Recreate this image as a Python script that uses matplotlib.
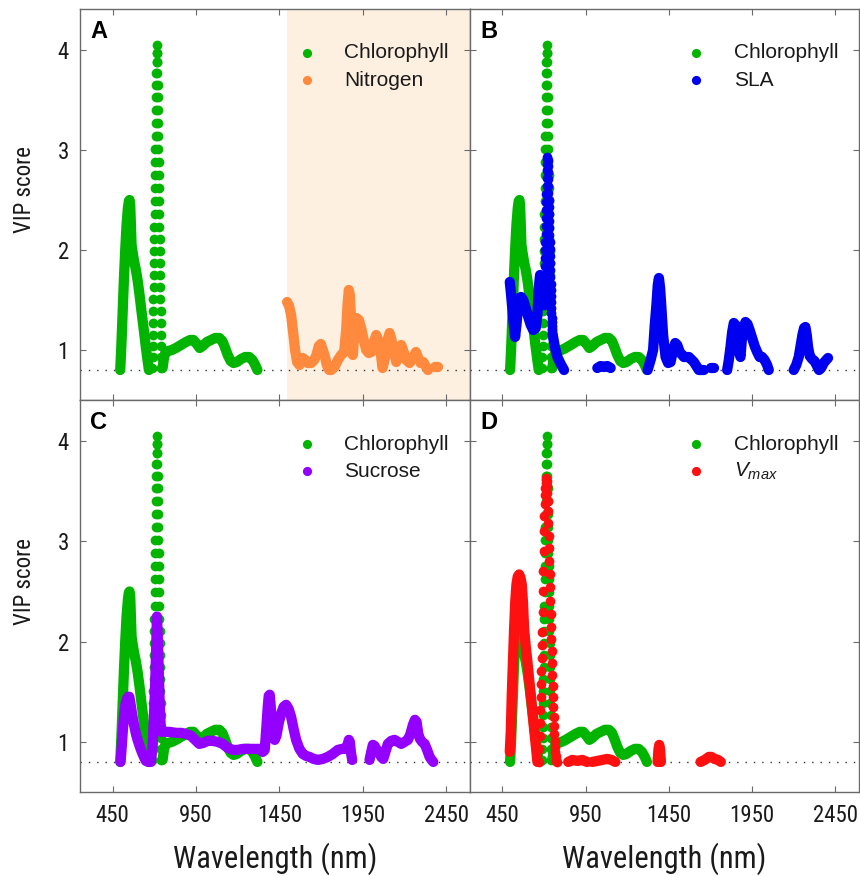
import numpy as np
import matplotlib
matplotlib.use("Agg")
import matplotlib.pyplot as plt
from matplotlib import font_manager

# ---------------- data ----------------
# Chlorophyll (identical in all four panels)
chl_a_nm = [496, 503, 510, 518, 526, 534, 542, 548, 552, 556, 560, 564, 570, 580, 590, 600, 612, 624, 636, 648, 658, 668]
chl_a_vip = [0.80, 1.05, 1.35, 1.70, 2.00, 2.25, 2.42, 2.49, 2.50, 2.45, 2.25, 2.05, 1.98, 1.88, 1.80, 1.70, 1.55, 1.38, 1.22, 1.05, 0.92, 0.80]
chl_up_nm = np.arange(689, 717)
chl_up_vip = [0.82, 0.93, 1.04, 1.15, 1.27, 1.39, 1.51, 1.63, 1.75, 1.87,
              1.99, 2.11, 2.23, 2.36, 2.49, 2.62, 2.75, 2.88, 3.01, 3.14,
              3.27, 3.40, 3.53, 3.65, 3.77, 3.88, 3.97, 4.05]
chl_down_nm = np.arange(717, 744)
chl_down_vip = [3.97, 3.88, 3.77, 3.65, 3.53, 3.40, 3.27, 3.14, 3.01, 2.88,
                2.75, 2.62, 2.49, 2.36, 2.23, 2.11, 1.99, 1.87, 1.75, 1.63,
                1.51, 1.39, 1.27, 1.15, 1.04, 0.93, 0.82]
chl_c_nm = [750, 758, 768, 785, 805, 830, 860, 890, 915, 935, 955, 972, 990, 1015, 1040,
            1065, 1090, 1108, 1125, 1140, 1158, 1175, 1195, 1220, 1245, 1268, 1288, 1305, 1318]
chl_c_vip = [0.82, 0.92, 0.98, 0.99, 1.00, 1.02, 1.05, 1.08, 1.10, 1.10, 1.06, 1.02, 1.04, 1.08, 1.10,
             1.12, 1.12, 1.09, 1.02, 0.95, 0.89, 0.87, 0.88, 0.91, 0.93, 0.93, 0.90, 0.85, 0.80]

# Nitrogen (panel A)
nit_a_nm = [1496, 1508, 1520, 1532, 1544, 1556, 1570, 1590, 1605, 1620,
            1640, 1658, 1672, 1686, 1698, 1710, 1722, 1734, 1748, 1760,
            1780, 1800, 1820, 1838, 1850, 1858, 1866, 1872, 1878, 1884,
            1890, 1900, 1912, 1926, 1940, 1955, 1970, 1985, 2000, 2015,
            2030, 2042, 2055, 2068, 2080, 2095, 2110, 2122, 2135, 2150,
            2165, 2180, 2195, 2210, 2230, 2250, 2268, 2282, 2296, 2312,
            2326, 2340]
nit_a_vip = [1.48, 1.44, 1.35, 1.18, 1.00, 0.88, 0.85, 0.92, 0.90, 0.87,
             0.87, 0.90, 0.95, 1.04, 1.06, 1.00, 0.94, 0.85, 0.80, 0.80,
             0.83, 0.90, 0.95, 0.98, 1.20, 1.45, 1.60, 1.55, 1.35, 1.05,
             0.95, 1.20, 1.32, 1.30, 1.22, 1.10, 1.00, 0.97, 0.98, 1.08,
             1.15, 1.10, 1.00, 0.82, 0.90, 1.08, 1.17, 1.10, 1.00, 0.88,
             0.95, 1.05, 0.98, 0.90, 0.87, 0.92, 0.98, 0.92, 0.87, 0.88,
             0.84, 0.80]
nit_b_nm = [2385, 2400]
nit_b_vip = [0.83, 0.83]

# SLA (panel B)
sla_a_nm = [494, 502, 510, 518, 526, 534, 542, 552, 562, 575, 590, 605, 620, 635, 650, 660, 668, 676, 684, 692, 699]
sla_a_vip = [1.68, 1.55, 1.40, 1.25, 1.13, 1.25, 1.40, 1.52, 1.53, 1.50, 1.42, 1.33, 1.25, 1.20, 1.22, 1.35, 1.62, 1.75, 1.72, 1.55, 1.45]
sla_up_nm = np.arange(700, 721)
sla_up_vip = [1.45, 1.52, 1.60, 1.68, 1.76, 1.84, 1.92, 2.00, 2.08, 2.16,
              2.24, 2.32, 2.40, 2.48, 2.56, 2.64, 2.72, 2.80, 2.86, 2.91, 2.93]
sla_down_nm = np.arange(721, 751)
sla_down_vip = [2.90, 2.84, 2.78, 2.71, 2.64, 2.57, 2.50, 2.43, 2.36, 2.29,
                2.22, 2.15, 2.08, 2.01, 1.94, 1.87, 1.80, 1.73, 1.66, 1.60,
                1.54, 1.48, 1.42, 1.37, 1.32, 1.28, 1.24, 1.21, 1.19, 1.17]
sla_b_nm = [752, 765, 780, 800, 820]
sla_b_vip = [1.15, 1.03, 0.93, 0.86, 0.80]
sla_c_nm = [1020, 1040, 1060, 1080, 1100]
sla_c_vip = [0.82, 0.84, 0.83, 0.84, 0.82]
sla_d_nm = [1322, 1340, 1355, 1365, 1375, 1383, 1390, 1397, 1405, 1415,
            1430, 1445, 1460, 1475, 1488, 1500, 1515, 1540, 1570, 1600, 1630, 1660]
sla_d_vip = [0.80, 0.90, 1.00, 1.25, 1.45, 1.65, 1.72, 1.62, 1.42, 1.15,
             0.93, 0.87, 0.88, 1.00, 1.07, 1.05, 0.98, 0.93, 0.93, 0.88, 0.80, 0.80]
sla_e_nm = [1705, 1720]
sla_e_vip = [0.82, 0.82]
sla_f_nm = [1800, 1810, 1820, 1830, 1840, 1850, 1862, 1872, 1880, 1888,
            1898, 1910, 1922, 1935, 1950, 1965, 1980, 1995, 2010, 2025, 2040, 2050]
sla_f_vip = [0.80, 0.90, 1.03, 1.18, 1.27, 1.25, 1.12, 0.98, 0.93, 1.10,
             1.22, 1.28, 1.26, 1.20, 1.12, 1.04, 0.98, 0.93, 0.93, 0.90, 0.85, 0.80]
sla_g_nm = [2200, 2215, 2230, 2242, 2252, 2262, 2270, 2278, 2286, 2296,
            2310, 2325, 2340, 2352, 2365, 2380, 2395, 2406]
sla_g_vip = [0.80, 0.85, 0.93, 1.05, 1.15, 1.22, 1.23, 1.15, 1.03, 0.94,
             0.91, 0.89, 0.84, 0.80, 0.82, 0.87, 0.90, 0.92]

# Sucrose (panel C)
suc_a_nm = [498, 505, 512, 520, 528, 536, 544, 550, 556, 563,
            570, 580, 590, 600, 612, 625, 638, 650, 665, 680,
            690, 698, 705, 711, 716, 721, 727, 733, 739, 745,
            760, 790, 830, 860, 890, 920, 945, 970, 995, 1020,
            1050, 1080, 1110, 1140, 1170, 1200, 1230, 1260, 1295, 1330,
            1350, 1362, 1372, 1380, 1386, 1392, 1398, 1405, 1413, 1422,
            1432, 1445, 1460, 1475, 1490, 1505, 1520, 1535, 1550, 1570,
            1590, 1610, 1630, 1655, 1680, 1710, 1740, 1770, 1800, 1825,
            1845, 1858, 1866, 1872, 1878, 1886]
suc_a_vip = [0.80, 0.95, 1.12, 1.28, 1.38, 1.43, 1.45, 1.45, 1.40, 1.32,
             1.25, 1.16, 1.08, 1.02, 0.96, 0.90, 0.85, 0.81, 0.80, 0.80,
             0.95, 1.25, 1.55, 1.90, 2.25, 2.05, 1.70, 1.35, 1.15, 1.10,
             1.10, 1.10, 1.09, 1.09, 1.08, 1.06, 1.02, 0.98, 0.99, 1.01,
             1.01, 1.00, 0.98, 0.94, 0.92, 0.92, 0.93, 0.93, 0.93, 0.93,
             0.90, 0.92, 1.15, 1.35, 1.46, 1.47, 1.35, 1.18, 1.06, 1.02,
             1.06, 1.18, 1.28, 1.35, 1.37, 1.33, 1.25, 1.13, 1.02, 0.93,
             0.88, 0.86, 0.85, 0.83, 0.82, 0.83, 0.85, 0.88, 0.92, 0.93,
             0.93, 0.97, 1.02, 1.00, 0.90, 0.82]
suc_b_nm = [1990, 2000, 2010, 2020, 2030, 2045, 2060, 2072, 2085, 2100,
            2120, 2140, 2160, 2180, 2200, 2220, 2235, 2250, 2262, 2272,
            2282, 2292, 2305, 2320, 2335, 2350, 2362, 2372]
suc_b_vip = [0.82, 0.90, 0.97, 0.96, 0.93, 0.90, 0.85, 0.83, 0.90, 0.98,
             1.01, 1.02, 1.00, 0.98, 1.00, 1.02, 1.08, 1.17, 1.22, 1.20,
             1.08, 1.03, 1.00, 0.98, 0.92, 0.85, 0.82, 0.80]

# Vmax (panel D)
vmax_a_nm = [494, 500, 506, 513, 520, 527, 534, 542, 550, 558, 566,
             573, 580, 590, 600, 610, 620, 630, 640, 650, 660]
vmax_a_vip = [0.90, 1.10, 1.47, 1.80, 2.13, 2.40, 2.57, 2.65, 2.67, 2.64, 2.57,
              2.40, 2.13, 1.95, 1.80, 1.63, 1.47, 1.30, 1.13, 0.97, 0.80]
vmax_up_nm = np.arange(670, 715, 2)
vmax_up_vip = [0.80, 0.93, 1.06, 1.19, 1.32, 1.45, 1.58, 1.71, 1.84, 1.97,
               2.10, 2.30, 2.50, 2.70, 2.90, 3.10, 3.25, 3.37, 3.46, 3.53,
               3.58, 3.61, 3.63]
vmax_down_nm = np.arange(716, 777, 2)
vmax_down_vip = [3.60, 3.55, 3.48, 3.40, 3.30, 3.18, 3.05, 2.93, 2.80, 2.67,
                 2.54, 2.41, 2.28, 2.15, 2.03, 1.91, 1.79, 1.67, 1.56, 1.45,
                 1.35, 1.25, 1.16, 1.08, 1.01, 0.95, 0.90, 0.86, 0.83, 0.81, 0.80]
vmax_b_nm = [845, 870, 900, 930, 958]
vmax_b_vip = [0.80, 0.82, 0.81, 0.82, 0.80]
vmax_c_nm = [990, 1020, 1050, 1080, 1105, 1128]
vmax_c_vip = [0.80, 0.81, 0.82, 0.83, 0.82, 0.80]
vmax_d_nm = [1382, 1387, 1392, 1397, 1402]
vmax_d_vip = [0.80, 0.92, 0.97, 0.92, 0.80]
vmax_e_nm = [1640, 1665, 1690, 1705, 1725, 1745, 1762]
vmax_e_vip = [0.80, 0.82, 0.85, 0.85, 0.83, 0.82, 0.80]

xticks = [450, 950, 1450, 1950, 2450]
yticks = [1, 2, 3, 4]
threshold = 0.8
nitrogen_band = (1495, 2600)
panel_letters = ["A", "B", "C", "D"]
legend_labels = [("Chlorophyll", "Nitrogen"), ("Chlorophyll", "SLA"),
                 ("Chlorophyll", "Sucrose"), ("Chlorophyll", r"$V_{max}$")]

# ---------------- style ----------------
names = {f.name for f in font_manager.fontManager.ttflist}
REG = "Liberation Sans" if "Liberation Sans" in names else "DejaVu Sans"
NARROW = None
for cand in ["Liberation Sans Narrow", "Arial Narrow", "Roboto Condensed",
             "Open Sans Condensed", "Noto Sans Condensed"]:
    if cand in names:
        NARROW = cand
        break
if NARROW is None:
    NARROW = REG
    k = 0.86
else:
    k = 1.0

plt.rcParams["font.family"] = [REG, "DejaVu Sans"]
plt.rcParams["mathtext.fontset"] = "custom"
plt.rcParams["mathtext.it"] = REG + ":italic"
plt.rcParams["mathtext.rm"] = REG

GREEN = "#00b400"
ORANGE = "#ff8a3d"
BLUE = "#0000f0"
PURPLE = "#9400ff"
RED = "#ff1010"
SHADE = "#fdf0e0"
SPINE = "#6a6a6a"
LW = 7.4
MS = 7.0

fig = plt.figure(figsize=(8.6, 8.76), dpi=100)
W, H = 860.0, 876.0
L, M, R = 80 / W, 470 / W, 859 / W
T, MID, B = 1 - 9 / H, 1 - 400 / H, 1 - 792 / H
axA = fig.add_axes([L, MID, M - L, T - MID])
axB = fig.add_axes([M, MID, R - M, T - MID])
axC = fig.add_axes([L, B, M - L, MID - B])
axD = fig.add_axes([M, B, R - M, MID - B])
axes = [axA, axB, axC, axD]


def line(ax, x, y, c, z=3):
    ax.plot(x, y, color=c, lw=LW, solid_capstyle="round", solid_joinstyle="round", zorder=z)


def dots(ax, x, y, c, z=3):
    ax.plot(x, y, "o", color=c, ms=MS, mew=0, zorder=z)


def chlorophyll(ax):
    line(ax, chl_a_nm, chl_a_vip, GREEN, 2)
    dots(ax, chl_up_nm, chl_up_vip, GREEN, 2)
    dots(ax, chl_down_nm, chl_down_vip, GREEN, 2)
    line(ax, chl_c_nm, chl_c_vip, GREEN, 2)


for ax in axes:
    chlorophyll(ax)
    ax.axhline(threshold, color="#333333", lw=1.0, ls=(0, (1, 5)), zorder=1)

axA.axvspan(*nitrogen_band, color=SHADE, zorder=0, lw=0)
line(axA, nit_a_nm, nit_a_vip, ORANGE)
line(axA, nit_b_nm, nit_b_vip, ORANGE)

line(axB, sla_a_nm, sla_a_vip, BLUE)
dots(axB, sla_up_nm, sla_up_vip, BLUE)
dots(axB, sla_down_nm, sla_down_vip, BLUE)
for xs, ys in [(sla_b_nm, sla_b_vip), (sla_c_nm, sla_c_vip), (sla_d_nm, sla_d_vip),
               (sla_e_nm, sla_e_vip), (sla_f_nm, sla_f_vip), (sla_g_nm, sla_g_vip)]:
    line(axB, xs, ys, BLUE)

line(axC, suc_a_nm, suc_a_vip, PURPLE)
line(axC, suc_b_nm, suc_b_vip, PURPLE)

line(axD, vmax_a_nm, vmax_a_vip, RED)
dots(axD, vmax_up_nm, vmax_up_vip, RED)
dots(axD, vmax_down_nm, vmax_down_vip, RED)
for xs, ys in [(vmax_b_nm, vmax_b_vip), (vmax_c_nm, vmax_c_vip),
               (vmax_d_nm, vmax_d_vip), (vmax_e_nm, vmax_e_vip)]:
    line(axD, xs, ys, RED)

series_colors = [ORANGE, BLUE, PURPLE, RED]

for i, ax in enumerate(axes):
    ax.set_xlim(255, 2592)
    ax.set_ylim(0.5, 4.41)
    ax.set_xticks(xticks)
    ax.set_yticks(yticks)
    ax.set_facecolor("white")
    for s in ax.spines.values():
        s.set_color(SPINE)
        s.set_linewidth(1.0)
    ax.tick_params(direction="in", length=4.0, width=0.8, color=SPINE,
                   top=True, right=True, labelcolor="#1a1a1a")
    ax.tick_params(axis="x", labelsize=16.5 * k, pad=9)
    ax.tick_params(axis="y", labelsize=16.5 * k, pad=8)
    for lab in ax.get_xticklabels() + ax.get_yticklabels():
        lab.set_fontfamily(NARROW)
    if i in (1, 3):
        ax.tick_params(labelleft=False)
    if i in (0, 1):
        ax.tick_params(labelbottom=False)
    else:
        ax.set_xlabel("Wavelength (nm)", fontsize=22 * k, fontfamily=NARROW,
                      color="#1a1a1a", labelpad=11)
    if i in (0, 2):
        ax.set_ylabel("VIP score", fontsize=16.5 * k,
                      fontfamily=NARROW, color="#1a1a1a")
        ax.yaxis.set_label_coords(-0.113, 0.537)

    ax.text(0.026, 0.972, panel_letters[i], transform=ax.transAxes, fontsize=17,
            fontweight="bold", ha="left", va="top", color="black")

    # legend
    lab1, lab2 = legend_labels[i]
    for j, (lab, col) in enumerate([(lab1, GREEN), (lab2, series_colors[i])]):
        yy = 0.8875 - j * 0.0695
        ax.plot([0.581], [yy], "o", color=col, ms=6.6, mew=0, transform=ax.transAxes,
                clip_on=False, zorder=5)
        ax.text(0.678, yy, lab, transform=ax.transAxes, fontsize=15, ha="left",
                va="center", color="#1a1a1a", zorder=5)

fig.savefig("out.png", dpi=100)
